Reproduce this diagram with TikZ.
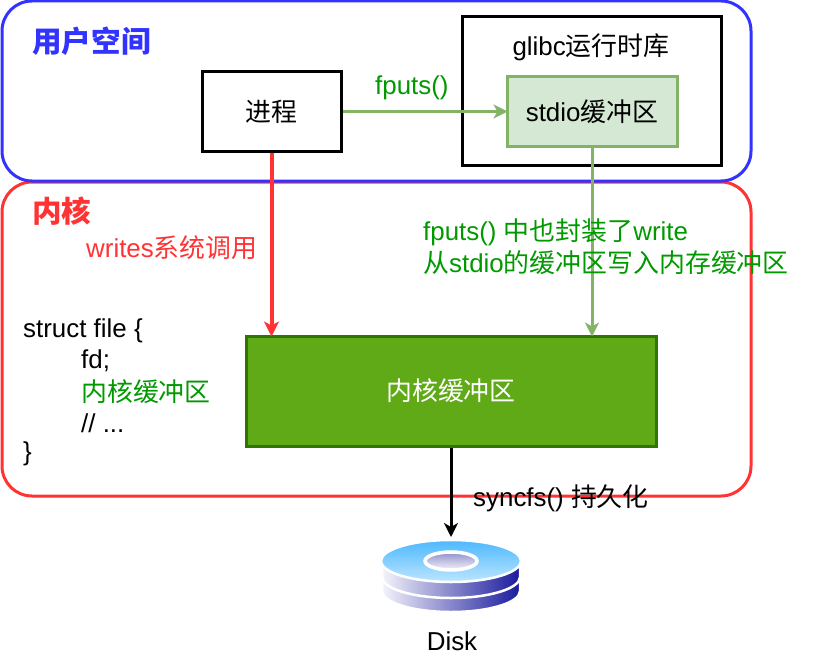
\documentclass[tikz,border=0pt]{standalone}
\usepackage{fontspec}
\setmainfont{Liberation Sans}
\newfontfamily\cjk{Noto Sans CJK SC}
\newcommand{\zh}[1]{{\cjk #1}}
\usetikzlibrary{positioning,arrows.meta}
\definecolor{bluespace}{HTML}{3333FF}
\definecolor{redspace}{HTML}{FF3333}
\definecolor{greenline}{HTML}{82B366}
\definecolor{greenfill}{HTML}{D5E8D4}
\definecolor{greentext}{HTML}{009900}
\definecolor{kernelfill}{HTML}{60A917}
\definecolor{kerneldraw}{HTML}{2D7600}
\definecolor{disktop}{HTML}{4DB8FF}
\definecolor{diskbot}{HTML}{BCE6FF}
\definecolor{diskdark}{HTML}{1A1A9E}
\definecolor{diskinner}{HTML}{8F8FCC}
\tikzset{
  txt/.style={inner sep=0pt,yshift=-1pt,font=\fontsize{25.9}{30}\selectfont},
  ltxt/.style={txt,anchor=west},
  title/.style={inner sep=0pt,anchor=west,font=\fontsize{29.6}{36}\selectfont\bfseries},
  space/.style={rounded corners=30,line width=3,fill=none},
  blackbox/.style={draw=black,line width=3},
  greenarrow/.style={draw=greenline,line width=3,shorten >=-2,-{Stealth[inset=4,fill=greenline,length=14,width=14]}},
  layer/.style={draw=white,line width=2.5,left color=white!95!diskdark,right color=diskdark},
}
\begin{document}
\begin{tikzpicture}[x=1pt,y=-1pt]
\useasboundingbox (0,0) rectangle (813,658);
\draw[space,draw=redspace] (2,182) rectangle (751,496);
\draw[space,draw=bluespace] (2,1) rectangle (751,181);
\node[blackbox,minimum width=139,minimum height=79,txt,yshift=1pt] (proc) at (271.5,111.5) {\zh{进程}};
\draw[blackbox] (462,17) rectangle (721,165);
\node[txt] (glibc) at (591,46) {glibc\zh{运行时库}};
\node[draw=greenline,fill=greenfill,line width=3,minimum width=170,minimum height=69,txt,yshift=1pt] (stdio) at (592,111.5) {stdio\zh{缓冲区}};
\node[draw=kerneldraw,fill=kernelfill,line width=3,minimum width=410,minimum height=110,txt,yshift=1pt,text=white] (buf) at (451,391) {\zh{内核缓冲区}};
\coordinate (disk) at (451,537);
% connectors
\draw[greenarrow] (proc.east) -- (stdio.west);
\draw[greenarrow] (stdio.south) -- (stdio.south |- buf.north);
\draw[draw=redspace,line width=4,shorten >=-2,-{Stealth[inset=4,fill=redspace,length=15,width=15]}] (proc.south) -- (proc.south |- buf.north);
\draw[line width=3,-{Stealth[inset=4,fill=black,length=14,width=14]}] (buf.south) -- (disk);
% labels
\node[title,text=bluespace] (user) at (32,41) {\zh{用户空间}};
\node[title,text=redspace] (kernel) at (32,211) {\zh{内核}};
\node[ltxt,text=redspace] (writes) at (86,247) {writes\zh{系统调用}};
\node[ltxt,text=greentext] (fputs) at (375,87) {fputs()};
\node[ltxt,text=greentext] (wrap1) at (423,231) {fputs() \zh{中也封装了}write};
\node[ltxt,text=greentext] (wrap2) at (423,262) {\zh{从}stdio\zh{的缓冲区写入内存缓冲区}};
\node[ltxt] (s1) at (23,330) {struct file \{};
\node[ltxt] (s2) at (81,360) {fd;};
\node[ltxt,text=greentext] (s3) at (81,391) {\zh{内核缓冲区}};
\node[ltxt] (s4) at (81,422) {// ...};
\node[ltxt] (s5) at (23,453) {\}};
\node[ltxt] (sync) at (473,497) {syncfs() \zh{持久化}};
\node[txt] (disklabel) at (452,640) {Disk};
% disk
\path[layer] (382,571) -- (382,591) arc[start angle=180,end angle=0,x radius=69,y radius=21] -- (520,571) -- cycle;
\path[layer] (382,557) -- (382,577) arc[start angle=180,end angle=0,x radius=69,y radius=21] -- (520,557) -- cycle;
\path[draw=white,line width=2.5,top color=disktop,bottom color=diskbot] (451,561) ellipse[x radius=70,y radius=21];
\path[draw=white,line width=3.5,top color=diskinner,bottom color=white!90!diskinner] (451,561) ellipse[x radius=26,y radius=9];
\end{tikzpicture}
\end{document}
